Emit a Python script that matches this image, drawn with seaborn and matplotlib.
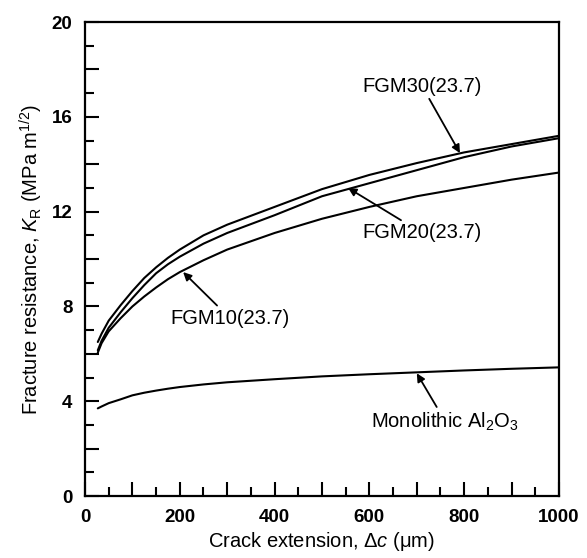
import numpy as np
import pandas as pd
import matplotlib as mpl
from matplotlib import pyplot as plt
from matplotlib.ticker import MultipleLocator, FuncFormatter
import seaborn as sns

# crack extension (um) and K_R readings (MPa m^1/2)
crack = [27, 35, 50, 75, 100, 125, 150, 175, 200, 250, 300, 400, 500, 600, 700, 800, 900, 1000]
fgm30 = [6.5, 6.85, 7.4, 8.05, 8.65, 9.2, 9.65, 10.05, 10.4, 11.0, 11.45, 12.2, 12.95, 13.55, 14.05, 14.5, 14.85, 15.2]
fgm20 = [6.15, 6.55, 7.1, 7.75, 8.35, 8.9, 9.4, 9.78, 10.1, 10.65, 11.1, 11.85, 12.65, 13.2, 13.75, 14.3, 14.75, 15.1]
fgm10 = [6.05, 6.45, 6.95, 7.5, 8.0, 8.42, 8.8, 9.15, 9.45, 9.95, 10.4, 11.1, 11.7, 12.2, 12.65, 13.0, 13.35, 13.65]
mono = [3.7, 3.78, 3.92, 4.08, 4.25, 4.36, 4.45, 4.53, 4.6, 4.71, 4.8, 4.93, 5.05, 5.14, 5.22, 5.3, 5.37, 5.43]

series = {"FGM30(23.7)": fgm30, "FGM20(23.7)": fgm20, "FGM10(23.7)": fgm10, "Monolithic": mono}
df = pd.concat([pd.DataFrame({"crack": crack, "KR": v, "material": k}) for k, v in series.items()])

sns.set_theme(style="ticks")
plt.rcParams["font.family"] = ["Liberation Sans", "DejaVu Sans"]
plt.rcParams["mathtext.fontset"] = "custom"
plt.rcParams["mathtext.rm"] = "Liberation Sans"
plt.rcParams["mathtext.it"] = "Liberation Sans:italic"
plt.rcParams.update({"text.color": "black", "axes.labelcolor": "black",
                     "xtick.color": "black", "ytick.color": "black", "axes.edgecolor": "black"})

fig = plt.figure(figsize=(5.87, 5.58), dpi=100)
ax = fig.add_axes([0.1448, 0.111, 0.8075, 0.8495])

sns.lineplot(data=df, x="crack", y="KR", units="material", estimator=None,
             color="black", linewidth=1.5, ax=ax, legend=False)

ax.set_xlim(0, 1000)
ax.set_ylim(0, 20)
ax.xaxis.set_major_locator(MultipleLocator(100))
ax.xaxis.set_minor_locator(MultipleLocator(50))
ax.yaxis.set_major_locator(MultipleLocator(2))
ax.yaxis.set_minor_locator(MultipleLocator(1))
ax.xaxis.set_major_formatter(FuncFormatter(lambda v, p: f"{v:.0f}" if round(v) % 200 == 0 else ""))
ax.yaxis.set_major_formatter(FuncFormatter(lambda v, p: f"{v:.0f}" if round(v) % 4 == 0 else ""))
ax.tick_params(which="major", direction="in", length=10, width=1.5, pad=9, labelsize=13.5)
ax.tick_params(which="minor", direction="in", length=6.5, width=1.5)
for lab in ax.get_xticklabels() + ax.get_yticklabels():
    lab.set_fontweight("bold")
for s in ax.spines.values():
    s.set_linewidth(1.6)
    s.set_visible(True)

ax.set_xlabel(r"Crack extension, $\Delta c$ ($\mathrm{\mu}$m)", fontsize=14.5, labelpad=3)
ax.set_ylabel(r"Fracture resistance, $K_\mathrm{R}$ (MPa m$^{1/2}$)", fontsize=14.5, labelpad=5)

arrow = dict(arrowstyle="-|>", color="black", lw=1.3, mutation_scale=12, shrinkA=0, shrinkB=0)
fs = 14.5
ax.annotate("FGM30(23.7)", xy=(791, 14.47), xytext=(711, 17.3), fontsize=fs,
            ha="center", va="center", arrowprops=arrow)
ax.annotate("FGM20(23.7)", xy=(555, 13.0), xytext=(711, 11.1), fontsize=fs,
            ha="center", va="center", arrowprops=arrow)
ax.annotate("FGM10(23.7)", xy=(207, 9.45), xytext=(306, 7.5), fontsize=fs,
            ha="center", va="center", arrowprops=arrow)
ax.annotate(r"Monolithic Al$_2$O$_3$", xy=(700, 5.18), xytext=(760, 3.15), fontsize=fs,
            ha="center", va="center", arrowprops=arrow)

plt.savefig("out.png", dpi=100)
